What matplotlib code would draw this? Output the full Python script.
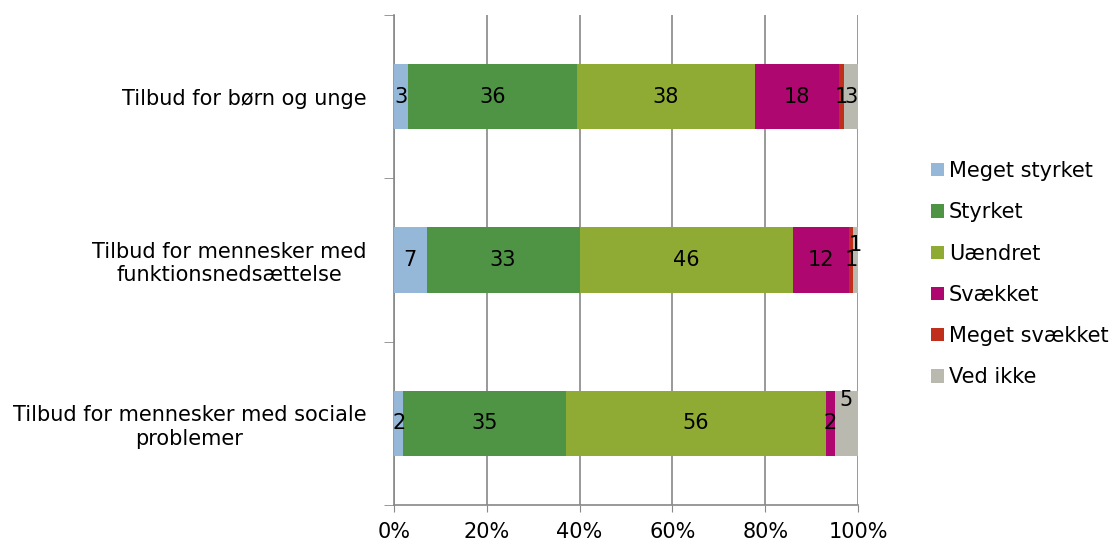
import matplotlib.pyplot as plt
import numpy as np

categories = ['Tilbud for børn og unge',
              'Tilbud for mennesker med\nfunktionsnedsættelse',
              'Tilbud for mennesker med sociale\nproblemer']
series = ['Meget styrket', 'Styrket', 'Uændret', 'Svækket', 'Meget svækket', 'Ved ikke']
meget_styrket = [3, 7, 2]
styrket = [36, 33, 35]
uaendret = [38, 46, 56]
svaekket = [18, 12, 2]
meget_svaekket = [1, 1, 0]
ved_ikke = [3, 1, 5]
colors = ['#95b8d9', '#4f9445', '#8fab33', '#ae0870', '#bf2f1b', '#b9b9b0']

values = np.array([meget_styrket, styrket, uaendret, svaekket, meget_svaekket, ved_ikke], dtype=float)
shares = values / values.sum(axis=0) * 100

# small trailing labels get nudged upwards like in the original
label_dy = {(5, 1): -0.09, (5, 2): -0.14}

fig = plt.figure(figsize=(11.15, 5.43), dpi=100)
ax = fig.add_axes([0.3534, 0.07, 0.4161, 0.9024])

y = np.arange(len(categories))
left = np.zeros(len(categories))
for i, name in enumerate(series):
    ax.barh(y, shares[i], left=left, height=0.4, color=colors[i], label=name, zorder=3)
    for j in range(len(categories)):
        if values[i, j] > 0:
            ax.text(left[j] + shares[i, j] / 2, y[j] + label_dy.get((i, j), 0),
                    '%d' % values[i, j], ha='center', va='center', fontsize=15, zorder=4)
    left += shares[i]

ax.set_xlim(0, 100)
ax.set_ylim(2.5, -0.5)
ax.set_xticks(range(0, 101, 20))
ax.set_xticklabels(['%d%%' % v for v in range(0, 101, 20)], fontsize=15)
ax.set_yticks(y)
ax.set_yticklabels(categories, fontsize=15, multialignment='center')
ax.tick_params(axis='y', length=0, pad=20)
ax.tick_params(axis='x', length=5, color='#888888', pad=7)
ax.set_yticks([-0.5, 0.5, 1.5, 2.5], minor=True)
ax.tick_params(axis='y', which='minor', length=7, color='#888888')
ax.grid(axis='x', color='#888888', linewidth=1.2, zorder=0)
for s in ['top', 'right']:
    ax.spines[s].set_visible(False)
for s in ['left', 'bottom']:
    ax.spines[s].set_color('#888888')
    ax.spines[s].set_linewidth(1.2)

ax.legend(loc='center left', bbox_to_anchor=(0.826, 0.495), bbox_transform=fig.transFigure,
          frameon=False, fontsize=15, handlelength=0.6, handleheight=0.6,
          handletextpad=0.25, labelspacing=1.02, borderpad=0)

fig.savefig('out.png', dpi=100)
